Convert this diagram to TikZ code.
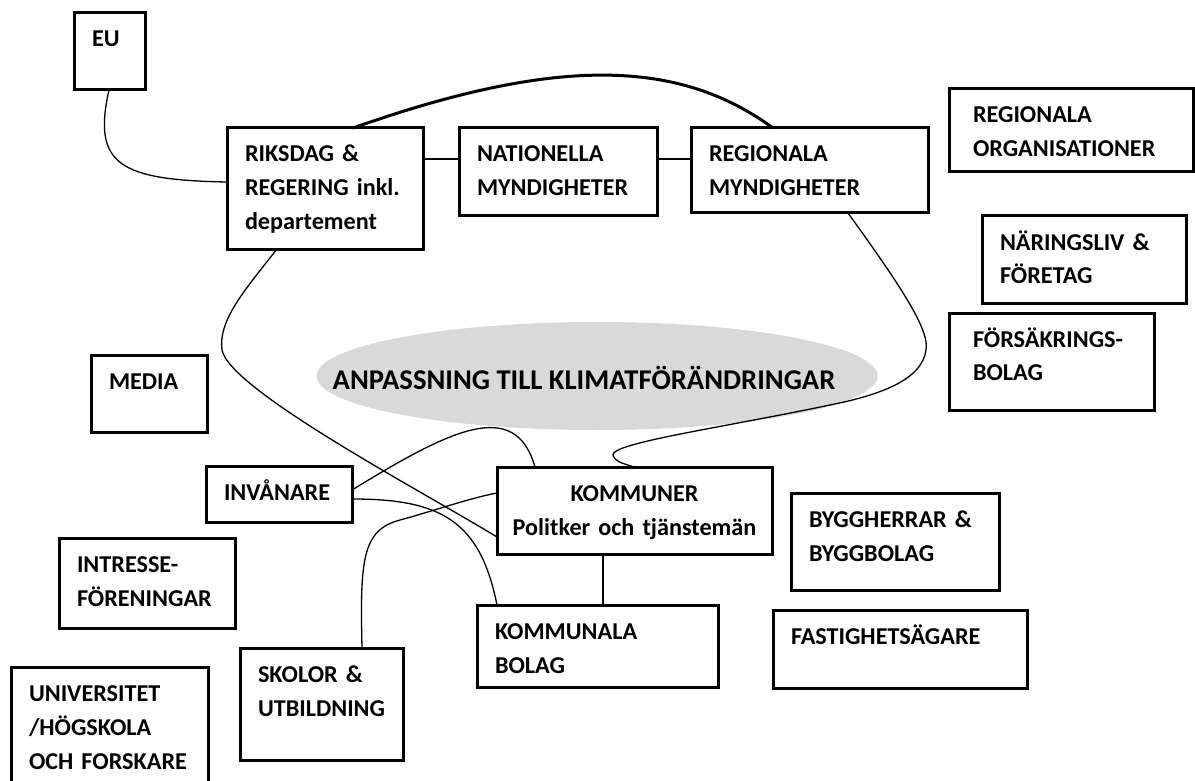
\documentclass[tikz,border=0pt]{standalone}
\usepackage{fontspec}
\setmainfont{Carlito}
\usetikzlibrary{calc}

\begin{document}
\begin{tikzpicture}[x=0.5pt, y=-0.5pt,
  panel/.style 2 args={draw, line width=1.5pt, anchor=north west, align=left,
    font=\bfseries\fontsize{12.1}{17}\selectfont,
    inner xsep=9pt, inner ysep=0pt, outer sep=0pt,
    text width=#1*0.5pt-18pt, text height=17pt, text depth=#2*0.5pt-17pt},
  link/.style={line width=0.65pt},
  goal/.style={anchor=base, font=\bfseries\fontsize{14.3}{17}\selectfont}]

\useasboundingbox (0,0) rectangle (1195,781);

% Theme
\fill[black!15] (597,376) ellipse [x radius=140.25pt, y radius=27pt];
\node[goal] (goal) at (584,389) {ANPASSNING TILL KLIMATFÖRÄNDRINGAR};

% Boxes
\node[panel={71}{77}] (eu) at (74,13) {EU};
\node[panel={196}{121}] (riks) at (227,128) {RIKSDAG \&\\REGERING inkl.\\departement};
\node[panel={198}{88}] (natm) at (459,128) {NATIONELLA\\MYNDIGHETER};
\node[panel={237}{85}] (regm) at (691,128) {REGIONALA\\MYNDIGHETER};
\node[panel={244}{83}, inner xsep=12pt, text width=98pt] (rorg) at (949,89) {REGIONALA\\ORGANISATIONER};
\node[panel={204}{87}] (nar) at (982,216) {NÄRINGSLIV \&\\FÖRETAG};
\node[panel={205}{97}, inner xsep=12pt, text width=78.5pt] (fors) at (949,313) {FÖRSÄKRINGS-\\BOLAG};
\node[panel={116}{77}] (media) at (91,355) {MEDIA};
\node[panel={146}{56}] (inv) at (206,466) {INVÅNARE};
\node[panel={176}{90}] (intr) at (59,538) {INTRESSE-\\FÖRENINGAR};
\node[panel={197}{125}] (univ) at (11,667) {UNIVERSITET\\/HÖGSKOLA\\OCH FORSKARE};
\node[panel={163}{112}] (skol) at (240,648) {SKOLOR \&\\UTBILDNING};
\node[panel={275}{87}, align=center, inner xsep=3pt, text width=131.5pt] (komm) at (497,467) {KOMMUNER\\Politker och tjänstemän};
\node[panel={241}{82}] (kbol) at (477,605) {KOMMUNALA\\BOLAG};
\node[panel={208}{97}] (bygg) at (791,493) {BYGGHERRAR \&\\BYGGBOLAG};
\node[panel={254}{78}] (fast) at (773,610) {FASTIGHETSÄGARE};

% Links
\draw[link] ($(eu.south west)+(35,0)$) .. controls +(-17,75) and +(-107,-2) .. ($(riks.north west)+(0,54)$);
\draw[link] ($(riks.north east)+(0,31)$) -- ($(natm.north west)+(0,31)$);
\draw[link] ($(natm.north east)+(0,31)$) -- ($(regm.north west)+(0,31)$);
\draw[line width=1.5pt] ($(riks.north west)+(126,0)$) .. controls +(207,-73) and +(-93,-68) .. ($(regm.north west)+(82,0)$);
\draw[link] ($(riks.south west)+(50,0)$) .. controls +(-32,41) and +(-4,-30) .. (222,350)
  .. controls +(8,40) and +(-77,-47) .. ($(komm.north west)+(0,70)$);
\draw[link] ($(inv.north east)+(0,24)$) .. controls +(98,-60) and +(-20,-70) .. ($(komm.north west)+(38,0)$);
\draw[link] ($(inv.north east)+(0,33)$) .. controls +(88,0) and +(-17,-85) .. ($(kbol.north west)+(20,0)$);
\draw[link] ($(skol.north west)+(122,0)$) .. controls +(-2,-88) and +(-38,10) .. (400,520)
  .. controls +(30,-8) and +(-27,5) .. ($(komm.north west)+(0,26)$);
\draw[link] ($(regm.south west)+(157,0)$) .. controls +(52,72) and +(4,-20) .. (926,350)
  .. controls +(-4,30) and +(50,-10) .. (830,405)
  .. controls +(-110,23) and +(-1,-12) .. (613,455)
  .. controls +(2,7) and +(-10,-3) .. (komm.north);
\draw[link] ($(komm.south west)+(106,0)$) -- ($(kbol.north west)+(126,0)$);

\end{tikzpicture}
\end{document}
